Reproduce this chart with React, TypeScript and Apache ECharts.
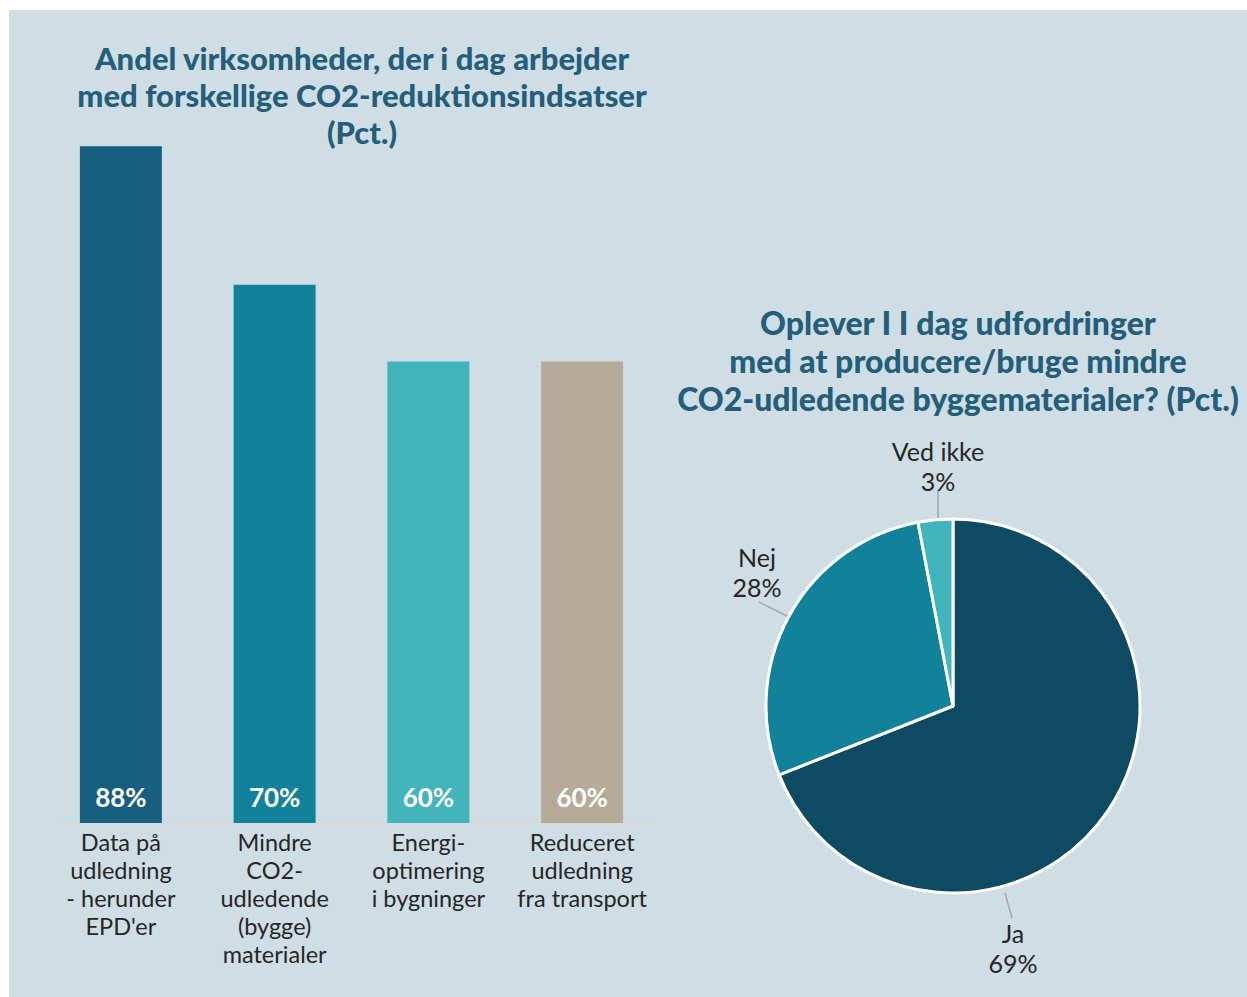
import React, { useEffect, useRef } from "react";
import * as echarts from "echarts";

const barCategories = [
  "Data på\nudledning\n- herunder\nEPD'er",
  "Mindre\nCO2-\nudledende\n(bygge)\nmaterialer",
  "Energi-\noptimering\ni bygninger",
  "Reduceret\nudledning\nfra transport",
];
const barValues = [88, 70, 60, 60];
const barColors = ["#175f7e", "#12819a", "#41b4bc", "#b6ab98"];

const pieNames = ["Ja", "Nej", "Ved ikke"];
const pieValues = [69, 28, 3];
const pieColors = ["#0f4a63", "#12819a", "#41b4bc"];

const barTitle = "Andel virksomheder, der i dag arbejder\nmed forskellige CO2-reduktionsindsatser\n(Pct.)";
const pieTitle = "Oplever I I dag udfordringer\nmed at producere/bruge mindre\nCO2-udledende byggematerialer? (Pct.)";

// label layout positions (page pixels) for pie labels
const pieLabelPos = [
  { x: 1013, y: 948, line: [[1005, 893], [1012, 918]] },
  { x: 757, y: 572, line: [[789, 617], [759, 602]] },
  { x: 938, y: 466, line: [[938, 519], [938, 490]] },
];

const TITLE_COLOR = "#245e7a";
const TEXT_COLOR = "#262626";
const FONT = "Lato, 'Noto Sans', sans-serif";

export default function App() {
  const ref = useRef<HTMLDivElement>(null);
  useEffect(() => {
    if (!ref.current) return;
    const chart = echarts.init(ref.current, null, { renderer: "svg" });
    chart.setOption({
      animation: false,
      backgroundColor: "transparent",
      textStyle: { fontFamily: FONT },
      title: [
        {
          text: barTitle,
          left: 357,
          top: 34,
          textAlign: "center",
          textStyle: {
            fontFamily: FONT,
            fontWeight: 900,
            fontSize: 31,
            lineHeight: 37,
            color: TITLE_COLOR,
          },
        },
        {
          text: pieTitle,
          left: 953,
          top: 298,
          textAlign: "center",
          textStyle: {
            fontFamily: FONT,
            fontWeight: 900,
            fontSize: 32,
            lineHeight: 38,
            color: TITLE_COLOR,
          },
        },
      ],
      grid: { left: 44, right: 588, top: 54, bottom: 174, containLabel: false },
      xAxis: {
        type: "category",
        data: barCategories,
        axisLine: { show: false },
        axisTick: { show: false },
        axisLabel: {
          interval: 0,
          fontSize: 23.5,
          lineHeight: 28,
          color: TEXT_COLOR,
          fontFamily: FONT,
          margin: 5,
        },
      },
      yAxis: {
        type: "value",
        min: 0,
        max: 100,
        show: false,
        splitLine: { show: false },
      },
      graphic: [
        {
          type: "line",
          shape: { x1: 58, y1: 823, x2: 650, y2: 823 },
          style: { stroke: "#d9d9d9", lineWidth: 1.5 },
          z: 1,
        },
      ],
      series: [
        {
          type: "bar",
          barWidth: 82,
          data: barValues.map((v, i) => ({ value: v, itemStyle: { color: barColors[i] } })),
          label: {
            show: true,
            position: "insideBottom",
            distance: 13,
            formatter: "{c}%",
            color: "#ffffff",
            fontWeight: "bold",
            fontSize: 26,
            fontFamily: FONT,
          },
          z: 2,
        },
        {
          type: "pie",
          center: [953, 706],
          radius: 187,
          startAngle: 90,
          clockwise: true,
          data: pieValues.map((v, i) => ({ value: v, name: pieNames[i], itemStyle: { color: pieColors[i] } })),
          itemStyle: { borderColor: "#ffffff", borderWidth: 3 },
          label: {
            show: true,
            position: "outside",
            formatter: "{b}\n{c}%",
            fontSize: 25,
            lineHeight: 30,
            color: TEXT_COLOR,
            fontFamily: FONT,
            align: "center",
          },
          labelLine: {
            show: true,
            length: 20,
            length2: 0,
            lineStyle: { color: "#a6a6a6", width: 1.5 },
          },
          labelLayout: (params: any) => {
            const p = pieLabelPos[params.dataIndex];
            return {
              x: p.x,
              y: p.y,
              align: "center",
              verticalAlign: "middle",
              labelLinePoints: p.line,
            };
          },
        },
      ],
    });
    return () => chart.dispose();
  }, []);

  return (
    <div style={{ position: "fixed", left: 0, top: 0, width: 1247, height: 997, background: "#ffffff" }}>
      <div style={{ position: "absolute", left: 9, top: 10, width: 1238, height: 987, background: "#cfdde4" }} />
      <div ref={ref} style={{ position: "absolute", left: 0, top: 0, width: 1247, height: 997 }} />
    </div>
  );
}
